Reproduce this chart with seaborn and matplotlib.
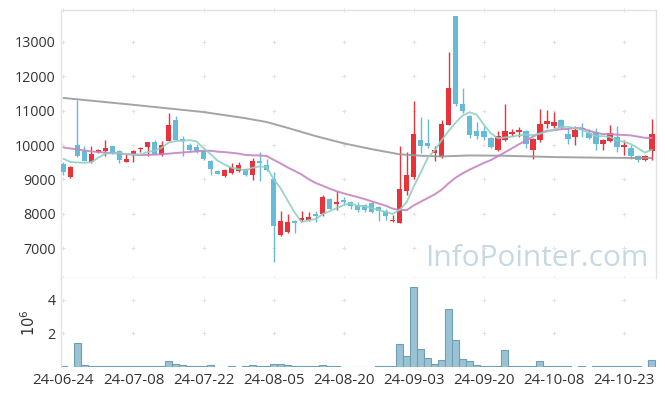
import numpy as np
import pandas as pd
import matplotlib
matplotlib.use("Agg")
import matplotlib.pyplot as plt
import seaborn as sns

# ---------------- data ----------------
tick_idx = [0, 10, 20, 30, 40, 50, 60, 70, 80]
tick_labels = ["24-06-24", "24-07-08", "24-07-22", "24-08-05", "24-08-20",
               "24-09-03", "24-09-20", "24-10-08", "24-10-23"]

opens = [9455, 9056, 9988, 9814, 9493, 9785, 9834, 9959, 9834, 9514,
         9726, 9872, 9930, 10076, 9697, 10125, 10717, 10184, 10009, 9930,
         9834, 9543, 9251, 9086, 9173, 9231, 9300, 9115, 9543, 9426,
         9018, 7367, 7483, 7775, 7804, 7804, 8007, 8007, 8436, 8281,
         8386, 8350, 8261, 8241, 8310, 8194, 8066, 7795, 7745, 8650,
         9056, 10154, 10058, 9767, 9639, 10591, 13746, 11194, 10853, 10417,
         10396, 10204, 9843, 10155, 10330, 10367, 10417, 9863, 10134, 10620,
         10562, 10737, 10330, 10221, 10495, 10350, 10380, 10038, 10125, 10221,
         9942, 9913, 9668, 9552, 9813]
closes = [9202, 9359, 9668, 9543, 9747, 9863, 9921, 9738, 9552, 9592,
          9834, 9921, 10076, 9747, 10009, 10591, 10154, 10105, 9863, 9814,
          9601, 9300, 9164, 9280, 9348, 9406, 9115, 9543, 9475, 9280,
          7629, 7795, 7757, 7728, 7874, 7912, 7940, 8494, 8144, 8340,
          8328, 8211, 8115, 8115, 8037, 8066, 7920, 7825, 8727, 9135,
          10330, 9960, 9960, 9843, 10620, 11660, 11194, 10999, 10300, 10271,
          10233, 9930, 10251, 10417, 10380, 10426, 10038, 10175, 10620, 10688,
          10670, 10495, 10175, 10446, 10446, 10204, 10038, 10155, 10350, 9930,
          10009, 9688, 9572, 9688, 10330]
highs = [9500, 9380, 11300, 9980, 9960, 9880, 10155, 9980, 9850, 9738,
         9850, 9940, 10090, 10154, 10125, 10932, 10833, 10271, 10048, 10020,
         9850, 9570, 9280, 9300, 9475, 9505, 9330, 9620, 9785, 9600,
         9213, 8086, 7980, 7830, 8080, 8060, 8090, 8555, 8470, 8650,
         8480, 8380, 8350, 8280, 8330, 8220, 8140, 7970, 9960, 9795,
         11290, 10815, 10766, 9980, 10737, 12709, 13746, 11660, 10870, 10660,
         10542, 10230, 10396, 11194, 10470, 10520, 10445, 10200, 11049, 11008,
         10960, 10760, 10500, 10542, 10640, 10470, 10500, 10170, 10570, 10550,
         10160, 10000, 9700, 9720, 10757]
lows = [9135, 9040, 9650, 9530, 9480, 9760, 9668, 9730, 9475, 9500,
        9505, 9800, 9668, 9740, 9690, 10110, 10140, 9668, 9795, 9770,
        9552, 9135, 9150, 9080, 9150, 9220, 9100, 8969, 8960, 9250,
        6592, 7350, 7440, 7440, 7790, 7790, 7750, 7940, 8130, 8115,
        8270, 8144, 8050, 8050, 8010, 7795, 7825, 7760, 7740, 8550,
        9000, 9767, 9913, 9522, 9621, 10580, 11150, 10940, 10204, 10175,
        10155, 9910, 9830, 10105, 10260, 10240, 9902, 9592, 10100, 10495,
        10495, 10480, 10030, 10009, 10240, 10180, 9857, 9863, 10100, 9800,
        9717, 9600, 9514, 9540, 9552]
volumes = [50000, 0, 1430000, 100000, 30000, 30000, 30000, 30000, 30000, 30000,
           30000, 30000, 30000, 30000, 30000, 330000, 200000, 100000, 30000, 30000,
           30000, 100000, 20000, 0, 30000, 0, 30000, 100000, 30000, 30000,
           200000, 200000, 100000, 30000, 30000, 30000, 30000, 100000, 30000, 30000,
           0, 0, 0, 0, 0, 30000, 30000, 30000, 1370000, 630000,
           4750000, 1080000, 550000, 200000, 430000, 3430000, 1610000, 490000, 330000, 140000,
           80000, 80000, 80000, 980000, 80000, 80000, 80000, 30000, 330000, 80000,
           30000, 30000, 30000, 0, 30000, 0, 30000, 30000, 30000, 30000,
           30000, 30000, 30000, 0, 390000]

ma5 = [9601, 9505, 9493, 9480, 9504, 9636, 9748, 9762, 9764, 9733,
       9727, 9727, 9795, 9834, 9917, 10069, 10115, 10121, 10144, 10105,
       9907, 9737, 9548, 9432, 9339, 9300, 9263, 9338, 9377, 9364,
       9008, 8744, 8387, 8038, 7757, 7813, 7842, 7990, 8073, 8166,
       8249, 8303, 8228, 8222, 8161, 8109, 8051, 7993, 8115, 8335,
       8787, 9195, 9622, 9846, 10143, 10409, 10655, 10863, 10955, 10885,
       10599, 10347, 10197, 10220, 10242, 10281, 10302, 10287, 10328, 10389,
       10438, 10530, 10530, 10495, 10446, 10353, 10262, 10258, 10239, 10135,
       10096, 10026, 9914, 9781, 9861]

ma20_idx = [0, 2, 4, 6, 8, 11, 14, 16, 18] + list(range(19, 85))
ma20 = [9930, 9870, 9814, 9780, 9750, 9705, 9730, 9767, 9800,
        9815, 9835, 9832, 9807, 9794, 9774, 9751, 9711, 9701, 9697,
        9681, 9571, 9465, 9349, 9248, 9141, 9007, 8896, 8816, 8730,
        8656, 8593, 8538, 8486, 8427, 8362, 8295, 8235, 8149, 8112,
        8105, 8240, 8348, 8458, 8564, 8701, 8889, 9051, 9176, 9284,
        9381, 9476, 9562, 9669, 9784, 9901, 10019, 10125, 10242, 10337,
        10415, 10432, 10459, 10469, 10499, 10491, 10418, 10360, 10318, 10320,
        10303, 10292, 10280, 10246, 10210, 10207]

ma120_idx = [0, 10, 20, 22, 26, 29, 32, 36, 40, 44, 48, 51, 54, 58, 63, 70, 77, 84]
ma120 = [11370, 11170, 10960, 10900, 10780, 10670, 10500, 10260, 10050, 9880,
         9730, 9690, 9668, 9697, 9688, 9650, 9630, 9621]

# ---------------- style ----------------
sns.set_theme(style="white")
plt.rcParams["font.family"] = ["Open Sans", "DejaVu Sans"]

UP = "#e8333b"
DOWN = "#66bcd8"
C_MA5 = "#8ecfc3"
C_MA20 = "#c784c4"
C_MA120 = "#9a9a9a"
SPINE = "#e3e3e3"
TXT = "#333333"
GRIDC = "#e2e2e2"

n = len(closes)
idx = np.arange(n)
df = pd.DataFrame({"idx": idx, "open": opens, "close": closes,
                   "high": highs, "low": lows, "vol": np.array(volumes) / 1e6})

fig = plt.figure(figsize=(6.65, 3.96), dpi=100)
L, R = 61 / 665, 656 / 665
ax = fig.add_axes([L, 1 - 278 / 396, R - L, (278 - 10) / 396])
axv = fig.add_axes([L, 1 - 367 / 396, R - L, (367 - 278) / 396])

xlim = (-0.35, 84.6)
ylim = (6130, 13930)

# ---- candles ----
up = df["close"] >= df["open"]
colors = np.where(up, UP, DOWN)
ax.vlines(df["idx"], df["low"], df["high"], colors=colors, linewidth=1.0, zorder=2)
body_bottom = np.minimum(df["open"], df["close"])
body_h = np.maximum(np.abs(df["close"] - df["open"]), 25)
ax.bar(df["idx"], body_h, bottom=body_bottom, width=0.8, color=colors,
       linewidth=0, zorder=3)

# ---- moving averages ----
sns.lineplot(x=ma120_idx, y=ma120, ax=ax, color=C_MA120, linewidth=1.4,
             alpha=0.9, zorder=4)
sns.lineplot(x=ma20_idx, y=ma20, ax=ax, color=C_MA20, linewidth=1.4,
             alpha=0.9, zorder=4)
sns.lineplot(x=idx, y=ma5, ax=ax, color=C_MA5, linewidth=1.3,
             alpha=0.9, zorder=4)

ax.set_xlim(*xlim)
ax.set_ylim(*ylim)
yt = [7000, 8000, 9000, 10000, 11000, 12000, 13000]
ax.set_yticks(yt)
ax.set_yticklabels([str(v) for v in yt])
ax.set_xticks(tick_idx)
ax.set_xticklabels([])
ax.set_xlabel("")
ax.set_ylabel("")

# plus-shaped grid marks
gx, gy = np.meshgrid(tick_idx, yt + [ylim[0], ylim[1]])
ax.plot(gx.ravel(), gy.ravel(), linestyle="none", marker="+", ms=3.5,
        mew=0.7, color=GRIDC, zorder=1, clip_on=False)

ax.text(0.987, 0.045, "InfoPointer.com", transform=ax.transAxes,
        ha="right", va="baseline", fontsize=21.5, color="#c6d8e3", zorder=0)

# ---- volume ----
sns.barplot(data=df, x="idx", y="vol", ax=axv, native_scale=True, width=1.0,
            color="#9bc2d2", edgecolor="#6f9fb6", linewidth=0.8, saturation=1)
axv.set_xlim(*xlim)
axv.set_ylim(0, 5.28)
axv.set_yticks([2, 4])
axv.set_yticklabels(["2", "4"])
axv.set_xticks(tick_idx)
axv.set_xticklabels(tick_labels)
axv.set_xlabel("")
axv.set_ylabel("$10^6$", color=TXT, fontsize=10.5, labelpad=6)
vx, vy = np.meshgrid(tick_idx, [2, 4])
axv.plot(vx.ravel(), vy.ravel(), linestyle="none", marker="+", ms=3.5,
         mew=0.7, color=GRIDC, zorder=0)

for a in (ax, axv):
    a.tick_params(axis="both", length=0, colors=TXT, pad=4)
    a.tick_params(axis="y", labelsize=10.3)
    a.tick_params(axis="x", labelsize=10.8)
    for s in a.spines.values():
        s.set_color(SPINE)
        s.set_linewidth(1.0)
    a.set_facecolor("white")
axv.spines["right"].set_visible(False)
axv.spines["bottom"].set_visible(False)
axv.spines["top"].set_visible(False)

fig.savefig("out.png", dpi=100, facecolor="white")
